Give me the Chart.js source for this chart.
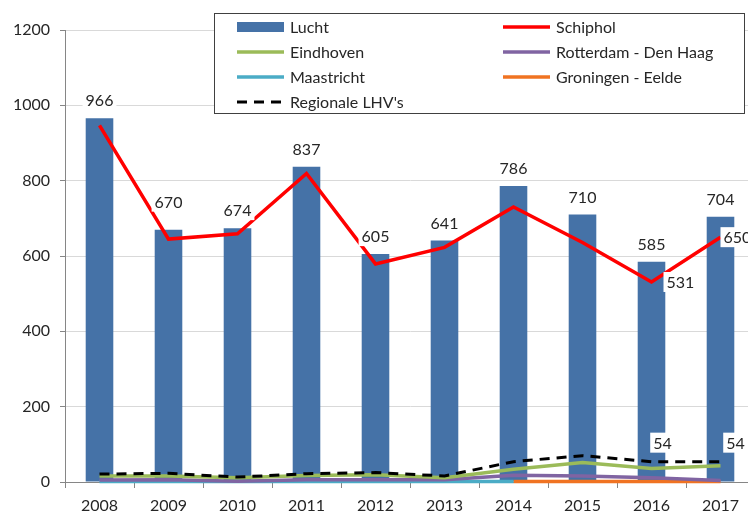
<!DOCTYPE html>
<html>
<head>
<meta charset="utf-8">
<script src="https://cdn.jsdelivr.net/npm/chart.js@4.4.1/dist/chart.umd.min.js"></script>
<style>
html,body{margin:0;padding:0;overflow:hidden;background:#fff;}
#wrap{position:relative;width:756px;height:516px;}
</style>
</head>
<body>
<div id="wrap"><canvas id="c"></canvas></div>
<script>
const categories = ['2008','2009','2010','2011','2012','2013','2014','2015','2016','2017'];
const lucht      = [966, 670, 674, 837, 605, 641, 786, 710, 585, 704];
const schiphol   = [947, 645, 659, 819, 579, 623, 730, 636, 531, 650];
const eindhoven  = [16, 16, 11, 17, 19, 11, 34, 52, 36, 43];
const rotterdam  = [5, 6, 2, 6, 6, 6, 18, 16, 11, 4];
const maastricht = [1, 1, 1, 1, 1, 1, 1, null, null, null];
const groningen  = [null, null, null, null, null, null, 1, 1, 1, 1];
const regionale  = [21, 23, 13, 22, 25, 16, 54, 70, 54, 54];
const yTicks     = [0, 200, 400, 600, 800, 1000, 1200];
const schipholLabelIdx  = [8, 9];
const regionaleLabelIdx = [8, 9];

const FONT = 'Lato';
const TXT = '#262626';

function lineDs(label, data, color, extra) {
  return Object.assign({
    type: 'line', label, data, borderColor: color, backgroundColor: color,
    borderWidth: 3.5, pointRadius: 0, pointHoverRadius: 0, tension: 0,
    fill: false, clip: false, spanGaps: false, order: 1
  }, extra || {});
}

const valuePlugin = {
  id: 'valueLabels',
  afterDatasetsDraw(chart) {
    const ctx = chart.ctx;
    ctx.save();
    ctx.font = '16px ' + FONT;
    ctx.textBaseline = 'middle';
    ctx.textAlign = 'left';
    const draw = (txt, x0, cy) => {
      const w = ctx.measureText(txt).width;
      ctx.fillStyle = '#ffffff';
      ctx.fillRect(x0 - 3, cy - 10, w + 6, 20);
      ctx.fillStyle = TXT;
      ctx.fillText(txt, x0, cy + 1);
    };
    const centered = (txt, cx, cy) => draw(txt, cx - ctx.measureText(txt).width / 2, cy);
    const barDy = {1: 28};
    chart.getDatasetMeta(0).data.forEach((el, i) => {
      centered(String(lucht[i]), el.x, el.y - (barDy[i] || 18));
    });
    const sMeta = chart.getDatasetMeta(1);
    const sDx = {8: 15, 9: 3};
    schipholLabelIdx.forEach(i => {
      const el = sMeta.data[i];
      draw(String(schiphol[i]), el.x + (sDx[i] || 4), el.y);
    });
    const rMeta = chart.getDatasetMeta(6);
    const rDx = {8: 11, 9: 15};
    regionaleLabelIdx.forEach(i => {
      const el = rMeta.data[i];
      centered(String(regionale[i]), el.x + (rDx[i] || 12), el.y - 19);
    });
    ctx.restore();
  }
};

const legendPlugin = {
  id: 'boxLegend',
  afterDraw(chart) {
    const ctx = chart.ctx;
    ctx.save();
    const L = 214, T = 13, R = 745, B = 114;
    ctx.fillStyle = '#ffffff';
    ctx.fillRect(L, T, R - L, B - T);
    ctx.strokeStyle = '#404040';
    ctx.lineWidth = 1;
    ctx.strokeRect(L + 0.5, T + 0.5, R - L - 1, B - T - 1);
    const cols = [237, 503];
    const rows = [27, 52, 77, 102];
    ctx.font = '16px ' + FONT;
    ctx.textBaseline = 'middle';
    ctx.textAlign = 'left';
    chart.data.datasets.forEach((ds, i) => {
      const x = cols[i % 2], y = rows[Math.floor(i / 2)];
      if (ds.type === 'bar') {
        ctx.fillStyle = ds.backgroundColor;
        ctx.fillRect(x, y - 5, 47, 10);
      } else {
        ctx.strokeStyle = ds.borderColor;
        ctx.lineWidth = ds.borderWidth;
        ctx.setLineDash(ds.borderDash || []);
        ctx.beginPath();
        ctx.moveTo(x, y);
        ctx.lineTo(x + 47, y);
        ctx.stroke();
        ctx.setLineDash([]);
      }
      ctx.fillStyle = TXT;
      ctx.fillText(ds.label, x + 53, y + 1);
    });
    ctx.restore();
  }
};

new Chart(document.getElementById('c'), {
  data: {
    labels: categories,
    datasets: [
      { type: 'bar', label: 'Lucht', data: lucht, backgroundColor: '#4572A7',
        barPercentage: 0.4, categoryPercentage: 1.0, order: 10 },
      lineDs('Schiphol', schiphol, '#FF0000', {order: 0}),
      lineDs('Eindhoven', eindhoven, '#9BBB59', {order: 2}),
      lineDs('Rotterdam - Den Haag', rotterdam, '#8064A2', {order: 3}),
      lineDs('Maastricht', maastricht, '#4BACC6', {order: 4}),
      lineDs('Groningen - Eelde', groningen, '#F07322', {order: 5}),
      lineDs("Regionale LHV's", regionale, '#000000', {borderWidth: 3, borderDash: [10, 7], order: 1})
    ]
  },
  options: {
    responsive: true,
    maintainAspectRatio: false,
    animation: false,
    events: [],
    layout: { padding: { top: 30, right: 1, left: 0, bottom: 0 } },
    plugins: { legend: { display: false }, tooltip: { enabled: false }, title: { display: false } },
    scales: {
      x: {
        offset: true,
        grid: { offset: true, drawOnChartArea: false, drawTicks: true, tickLength: 6, color: '#868686' },
        border: { color: '#868686' },
        ticks: { font: { family: FONT, size: 16 }, color: TXT, padding: 8, maxRotation: 0, autoSkip: false },
        afterFit: s => { s.height = 34; }
      },
      y: {
        min: 0, max: 1200,
        afterBuildTicks: s => { s.ticks = yTicks.map(v => ({ value: v })); },
        grid: { color: '#D9D9D9', tickColor: '#868686', tickLength: 5 },
        border: { color: '#868686' },
        ticks: { font: { family: FONT, size: 16 }, color: TXT, padding: 10, callback: v => String(v) },
        afterFit: s => { s.width = 65; }
      }
    }
  },
  plugins: [valuePlugin, legendPlugin]
});
</script>
</body>
</html>
